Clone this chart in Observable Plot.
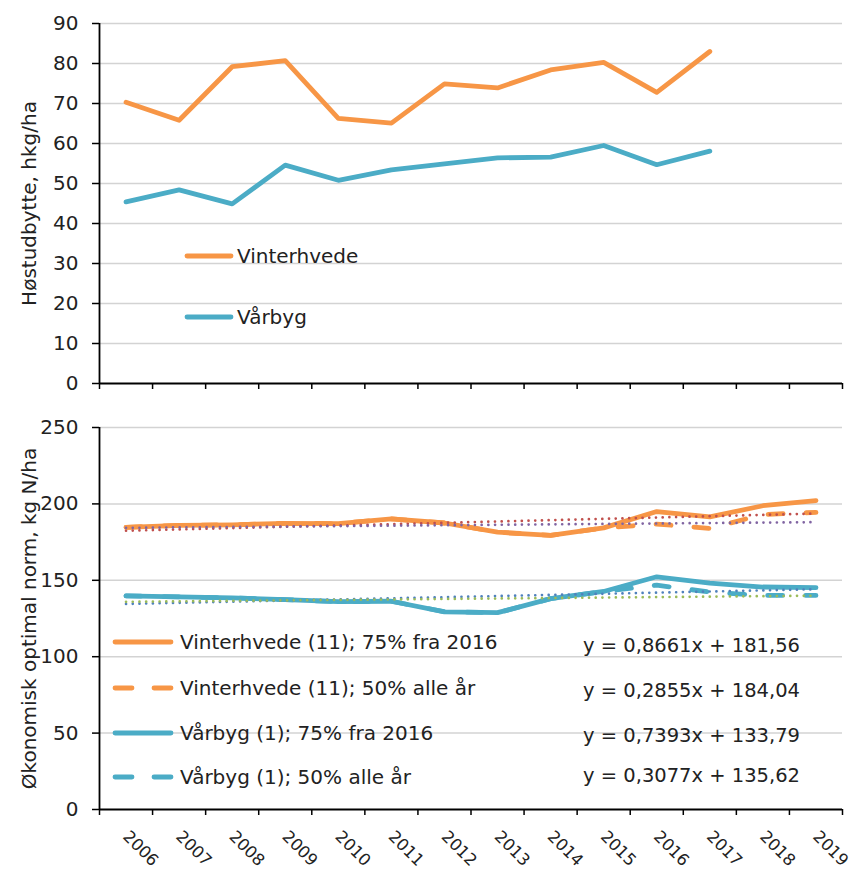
<!DOCTYPE html>
<html><head><meta charset="utf-8">
<script src="https://cdn.jsdelivr.net/npm/d3@7"></script>
<script src="https://cdn.jsdelivr.net/npm/@observablehq/plot@0.6"></script>
<style>
body{margin:0;background:#fff;}
#chart{width:854px;height:877px;overflow:hidden;}
#chart svg{display:block;}
</style>
</head><body><div id="chart"></div>
<script>
// ---------- data ----------
const years = [2006,2007,2008,2009,2010,2011,2012,2013,2014,2015,2016,2017,2018,2019];
const yieldYears = [2006,2007,2008,2009,2010,2011,2012,2013,2014,2015,2016,2017];
const vinterhvedeYield = [70.3,65.8,79.2,80.7,66.3,65.1,74.9,73.9,78.4,80.3,72.8,83.0];
const vaarbygYield     = [45.4,48.4,44.9,54.6,50.8,53.4,54.9,56.4,56.6,59.5,54.7,58.1];
const yTicksTop = [0,10,20,30,40,50,60,70,80,90];
const yTicksBottom = [0,50,100,150,200,250];

const vinterhvede75 = [184.7,186.0,186.3,187.3,187.1,190.2,187.5,181.5,179.4,184.3,195.0,191.5,198.8,202.2];
const vinterhvede50 = [184.7,186.0,186.3,187.3,187.1,190.2,187.5,181.5,179.4,184.3,186.8,184.0,193.0,194.5];
const vaarbyg75     = [139.8,139.1,138.5,137.4,136.0,136.3,129.4,128.8,138.0,142.7,152.3,148.2,145.6,145.2];
const vaarbyg50     = [139.8,139.1,138.5,137.4,136.0,136.3,129.4,128.8,138.0,142.7,146.8,142.3,140.1,140.1];

const trendSlopes     = [0.8661, 0.2855, 0.7393, 0.3077];
const trendIntercepts = [181.56, 184.04, 133.79, 135.62];
const equations = ["y = 0,8661x + 181,56","y = 0,2855x + 184,04","y = 0,7393x + 133,79","y = 0,3077x + 135,62"];

const topNames = ["Vinterhvede","Vårbyg"];
const bottomNames = ["Vinterhvede (11); 75% fra 2016","Vinterhvede (11); 50% alle år","Vårbyg (1); 75% fra 2016","Vårbyg (1); 50% alle år"];
const topYLabel = "Høstudbytte, hkg/ha";
const bottomYLabel = "Økonomisk optimal norm, kg N/ha";

(function () {
// ---------- styles ----------
const ORANGE = "#F79646", AQUA = "#4BACC6";
const trendColors = ["#C0504D","#8064A2","#4F81BD","#9BBB59"];
const FONT = "DejaVu Sans";
const TXT = "#222";
const GRID = "#d3d3d3";

const xDomain = [years[0]-0.5, years[years.length-1]+0.5];
const boundaries = [...years.map(y=>y-0.5), years[years.length-1]+0.5];

const topRows = (vals) => yieldYears.map((yr,i)=>({year:yr, v:vals[i]}));
const botRows = (vals) => years.map((yr,i)=>({year:yr, v:vals[i]}));
const trendRows = (k) => [
  {year: years[0], v: trendSlopes[k]*1 + trendIntercepts[k]},
  {year: years[years.length-1], v: trendSlopes[k]*years.length + trendIntercepts[k]}
];

const W = 854;
const lineOpts = {x:"year", y:"v", strokeWidth:4.8, strokeLinejoin:"round", strokeLinecap:"round"};
const dashOpts = {strokeDasharray: "15,23", strokeLinecap: "round"};

// ---------- top chart ----------
const topChart = Plot.plot({
  width: W, height: 395,
  marginLeft: 99, marginRight: 12, marginTop: 23, marginBottom: 12,
  style: {fontFamily: FONT, fontSize: "20px", color: TXT, background: "#fff"},
  x: {domain: xDomain},
  y: {domain: [0, 90]},
  marks: [
    Plot.ruleY(yTicksTop.filter(d=>d>0), {stroke: GRID, strokeWidth: 1.5}),
    Plot.line(topRows(vinterhvedeYield), {...lineOpts, stroke: ORANGE}),
    Plot.line(topRows(vaarbygYield), {...lineOpts, stroke: AQUA}),
    Plot.ruleY([0], {stroke: "#000", strokeWidth: 1.8}),
    Plot.ruleX([xDomain[0]], {stroke: "#000", strokeWidth: 1.8}),
    Plot.axisY({ticks: yTicksTop, tickSize: 7, tickPadding: 14, fontSize: 20, label: null, strokeWidth: 1.5, stroke:"#000"}),
    Plot.axisX({ticks: boundaries, tickSize: 6, tickFormat: () => "", label: null, strokeWidth: 1.5, stroke:"#000"}),
    Plot.text([topYLabel], {frameAnchor: "left", textAnchor: "middle", rotate: -90, dx: -70, fontSize: 20, fill: TXT})
  ]
});

// ---------- bottom chart ----------
const bottomChart = Plot.plot({
  width: W, height: 482,
  marginLeft: 99, marginRight: 12, marginTop: 32, marginBottom: 68,
  style: {fontFamily: FONT, fontSize: "20px", color: TXT, background: "#fff", overflow: "visible"},
  x: {domain: xDomain},
  y: {domain: [0, 250]},
  marks: [
    Plot.ruleY(yTicksBottom.filter(d=>d>0), {stroke: GRID, strokeWidth: 1.5}),
    Plot.line(botRows(vinterhvede50), {...lineOpts, ...dashOpts, stroke: ORANGE}),
    Plot.line(botRows(vaarbyg50), {...lineOpts, ...dashOpts, stroke: AQUA}),
    Plot.line(botRows(vinterhvede75), {...lineOpts, stroke: ORANGE}),
    Plot.line(botRows(vaarbyg75), {...lineOpts, stroke: AQUA}),
    ...[0,1,2,3].map(k => Plot.line(trendRows(k), {x:"year", y:"v", stroke: trendColors[k], strokeWidth: 2.7, strokeDasharray: "0.01,6.7", strokeLinecap: "round"})),
    Plot.ruleY([0], {stroke: "#000", strokeWidth: 1.8}),
    Plot.ruleX([xDomain[0]], {stroke: "#000", strokeWidth: 1.8}),
    Plot.axisY({ticks: yTicksBottom, tickSize: 7, tickPadding: 14, fontSize: 20, label: null, strokeWidth: 1.5, stroke:"#000"}),
    Plot.axisX({ticks: boundaries, tickSize: 6, tickFormat: () => "", label: null, strokeWidth: 1.5, stroke:"#000"}),
    Plot.text(years, {x: d => d, text: d => String(d), frameAnchor: "bottom", rotate: 45, textAnchor: "start", dx: -4, dy: 28, fontSize: 16.5, fill: TXT}),
    Plot.text([bottomYLabel], {frameAnchor: "left", textAnchor: "middle", rotate: -90, dx: -70, fontSize: 20, fill: TXT})
  ]
});

const chart = document.getElementById("chart");
chart.appendChild(topChart);
chart.appendChild(bottomChart);

// ---------- legends (in-plot annotations) ----------
function legendItem(svg, x1, x2, tx, y, color, dashed, label) {
  const g = d3.select(svg).append("g");
  g.append("line").attr("x1", x1).attr("x2", x2).attr("y1", y).attr("y2", y)
    .attr("stroke", color).attr("stroke-width", 4.8)
    .attr("stroke-linecap", "round")
    .attr("stroke-dasharray", dashed ? "17,22" : null);
  g.append("text").attr("x", tx).attr("y", y).attr("dy", "0.35em")
    .attr("text-anchor", "start")
    .attr("font-family", FONT).attr("font-size", 20).attr("fill", TXT)
    .text(label);
}
const topLegendY = [256, 317];
[ORANGE, AQUA].forEach((c,i) => legendItem(topChart, 187, 231, 237, topLegendY[i], c, false, topNames[i]));

const botLegendY = [247, 293, 338, 382];
const botColors = [ORANGE, ORANGE, AQUA, AQUA];
bottomNames.forEach((n,i) => legendItem(bottomChart, 115, 171, 180, botLegendY[i], botColors[i], i % 2 === 1, n));

const eqY = [250, 295, 340, 380];
equations.forEach((e,i) => {
  d3.select(bottomChart).append("text").attr("x", 583).attr("y", eqY[i]).attr("dy", "0.35em")
    .attr("text-anchor", "start")
    .attr("font-family", FONT).attr("font-size", 19.5).attr("fill", TXT).text(e);
});
})();
</script>
</body></html>
